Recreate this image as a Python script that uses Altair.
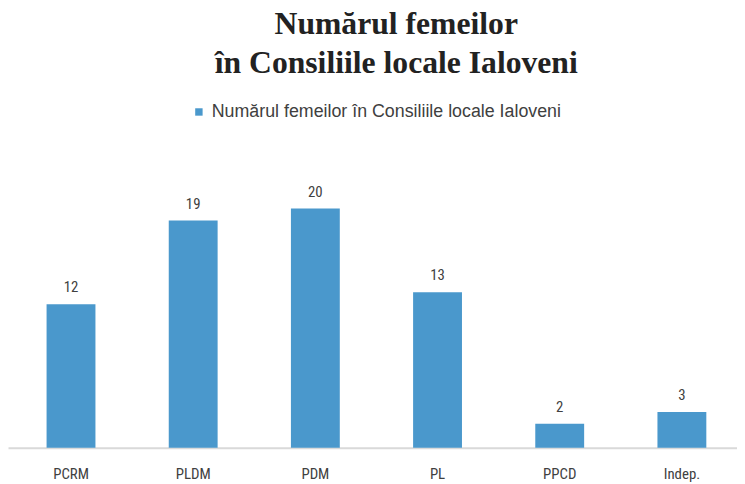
import altair as alt
import pandas as pd

parties = ["PCRM", "PLDM", "PDM", "PL", "PPCD", "Indep."]
women = [12, 19, 20, 13, 2, 3]
series_name = "Numărul femeilor în Consiliile locale Ialoveni"

df = pd.DataFrame({"party": parties, "value": women, "series": [series_name] * len(parties)})

BLUE = "#4a98cc"
TXT = "#404040"
SANS = "Liberation Sans Narrow, Roboto Condensed, Open Sans, sans-serif"

x = alt.X(
    "party:N",
    sort=parties,
    title=None,
    scale=alt.Scale(paddingInner=0.6, paddingOuter=0.2834, align=0.557),
    axis=alt.Axis(
        labelAngle=0,
        ticks=False,
        domainColor="#d9d9d9",
        domainWidth=2,
        labelFont=SANS,
        labelFontSize=15,
        labelColor=TXT,
        labelPadding=19,
    ),
)
y = alt.Y("value:Q", scale=alt.Scale(domain=[0, 25]), axis=None)

bars = alt.Chart(df).mark_bar(color=BLUE).encode(
    x=x,
    y=y,
    color=alt.Color(
        "series:N",
        scale=alt.Scale(range=[BLUE]),
        legend=alt.Legend(
            title=None,
            orient="none",
            legendX=184,
            legendY=-46,
            symbolType="square",
            symbolSize=56,
            symbolStrokeWidth=0,
            labelFont="Liberation Sans, Arial, sans-serif",
            labelFontSize=18,
            labelColor=TXT,
            labelLimit=600,
            labelOffset=4,
        ),
    ),
)

labels = alt.Chart(df).mark_text(
    baseline="alphabetic", dy=-12, font=SANS, fontSize=15, color=TXT
).encode(x=x, y=y, text="value:Q")

chart = (
    alt.layer(bars, labels)
    .properties(
        width=737,
        height=302.5,
        padding={"left": 0, "right": 0, "top": 139.5, "bottom": 34},
        autosize=alt.AutoSizeParams(type="none"),
        title=alt.TitleParams(
            text=["Numărul femeilor", "în Consiliile locale Ialoveni"],
            font="Liberation Serif, Times New Roman, serif",
            fontSize=32,
            fontWeight="bold",
            color="#222222",
            anchor="middle",
            dx=24,
            offset=23,
            lineHeight=40,
        ),
    )
    .configure_view(stroke=None)
)

chart.save("out.html", embed_options={"renderer": "svg", "actions": False})
